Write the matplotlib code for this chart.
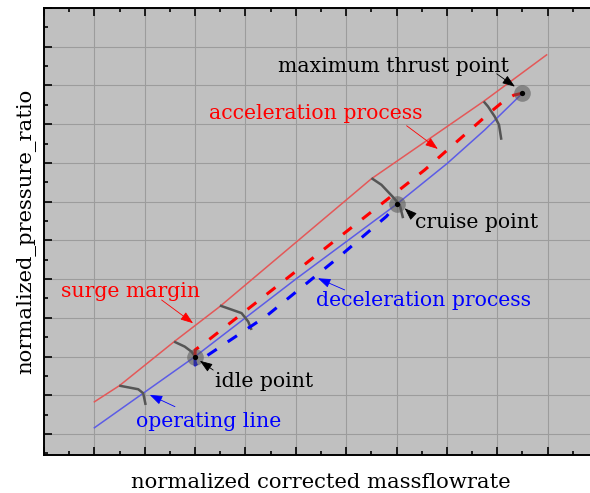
import matplotlib
matplotlib.use('Agg')
import matplotlib.pyplot as plt
from matplotlib.ticker import MultipleLocator

plt.rcParams['font.family'] = ['DejaVu Serif']
plt.rcParams['lines.scale_dashes'] = False

# ---- data ----
surge_x = [1.0, 1.5, 2.59, 3.49, 6.5, 8.73, 9.98]
surge_y = [0.83, 1.25, 2.39, 3.29, 6.59, 8.59, 9.79]

oper_x = [1.0, 3.0, 5.0, 7.0, 8.0, 8.75, 9.5]
oper_y = [0.16, 2.0, 4.0, 5.93, 6.98, 7.85, 8.8]

speed1_x = [1.494, 1.871, 1.970, 2.018]
speed1_y = [1.248, 1.155, 1.052, 0.749]
speed2_x = [2.583, 2.794, 2.927, 3.0]
speed2_y = [2.385, 2.256, 2.127, 2.0]
speed3_x = [3.492, 3.923, 4.054, 4.121]
speed3_y = [3.318, 3.121, 2.904, 2.687]
speed4_x = [6.502, 6.700, 6.931, 7.063, 7.129]
speed4_y = [6.607, 6.434, 6.116, 5.917, 5.573]
speed5_x = [8.730, 8.815, 8.948, 9.034, 9.081]
speed5_y = [8.587, 8.458, 8.199, 7.984, 7.597]

accel_x = [3.0, 3.0, 3.24, 5.07, 7.56, 8.88, 9.15, 9.33, 9.5]
accel_y = [2.0, 2.17, 2.40, 4.27, 6.82, 8.33, 8.62, 8.75, 8.8]

decel_x = [3.0, 3.0, 3.12, 4.42, 5.81, 6.8, 7.0]
decel_y = [2.0, 1.78, 1.92, 3.05, 4.52, 5.62, 5.93]

point_x = [3.0, 7.0, 9.5]
point_y = [2.0, 5.93, 8.8]

x_label = 'normalized corrected massflowrate'
y_label = 'normalized_pressure_ratio'

# ---- figure ----
fig = plt.figure(figsize=(5.9, 4.93), dpi=100)
ax = fig.add_axes([44/590, (493-455)/493, (598-44)/590, (455-8)/493])
ax.set_facecolor('#c0c0c0')
ax.set_xlim(0, 11)
ax.set_ylim(-0.543, 11.0)

ax.xaxis.set_major_locator(MultipleLocator(1))
ax.xaxis.set_minor_locator(MultipleLocator(0.5))
ax.yaxis.set_major_locator(MultipleLocator(1))
ax.yaxis.set_minor_locator(MultipleLocator(0.5))
ax.grid(True, which='major', color='#9c9c9c', lw=0.8, zorder=0)
ax.set_axisbelow(True)
ax.tick_params(which='both', direction='in', top=True, right=True,
               labelbottom=False, labelleft=False, color='black')
ax.tick_params(which='major', length=6, width=1.2)
ax.tick_params(which='minor', length=3, width=1.2)
for s in ax.spines.values():
    s.set_linewidth(1.4)

fs = 14.7
fl = 15.2
ax.set_xlabel(x_label, fontsize=fl, va='baseline')
ax.xaxis.set_label_coords(0.5, (455-488.3)/447)
ax.set_ylabel(y_label, fontsize=fl, va='baseline')
ax.yaxis.set_label_coords((31-44)/554, 0.5)

# lines
ax.plot(surge_x, surge_y, color='#e45858', lw=1.1, zorder=3)
ax.plot(oper_x, oper_y, color='#5c5ce6', lw=1.1, zorder=3)
for sx, sy in [(speed1_x, speed1_y), (speed2_x, speed2_y), (speed3_x, speed3_y),
               (speed4_x, speed4_y), (speed5_x, speed5_y)]:
    ax.plot(sx, sy, color='#555555', lw=1.8, zorder=4, solid_capstyle='butt',
            solid_joinstyle='round')

ax.plot(accel_x, accel_y, color='#ff0000', lw=2.2, zorder=5,
        dashes=(8, 9.5), dash_capstyle='butt')
ax.plot(decel_x, decel_y, color='#0000ff', lw=2.2, zorder=5,
        dashes=(8, 9.5), dash_capstyle='butt')

ax.plot(point_x, point_y, 'o', ms=12, color='#555555', alpha=0.55,
        mec='none', zorder=6)
ax.plot(point_x, point_y, 'o', ms=3.8, color='black', mec='none', zorder=7)

def note(text, xy, xytext, tx, ty, color):
    ax.annotate('', xy=xy, xytext=xytext,
                arrowprops=dict(arrowstyle='-|>,head_length=0.55,head_width=0.2',
                                lw=0.6, color=color, shrinkA=0, shrinkB=0,
                                mutation_scale=14), zorder=8)
    ax.text(tx, ty, text, color=color, fontsize=fs, ha='left', va='baseline',
            zorder=9)

note('maximum thrust point', (9.35, 8.97), (8.99, 9.30), 4.65, 9.36, 'black')
note('acceleration process', (7.82, 7.36), (7.20, 7.96), 3.274, 8.14, '#ff0000')
note('cruise point', (7.16, 5.83), (7.30, 5.66), 7.36, 5.31, 'black')
note('surge margin', (2.96, 2.86), (2.335, 3.46), 0.337, 3.53, '#ff0000')
note('deceleration process', (5.44, 4.02), (5.97, 3.72), 5.397, 3.315, '#0000ff')
note('idle point', (3.095, 1.89), (3.36, 1.65), 3.393, 1.22, 'black')
note('operating line', (2.10, 1.01), (2.6, 0.705), 1.825, 0.19, '#0000ff')

fig.savefig('out.png', dpi=100)
